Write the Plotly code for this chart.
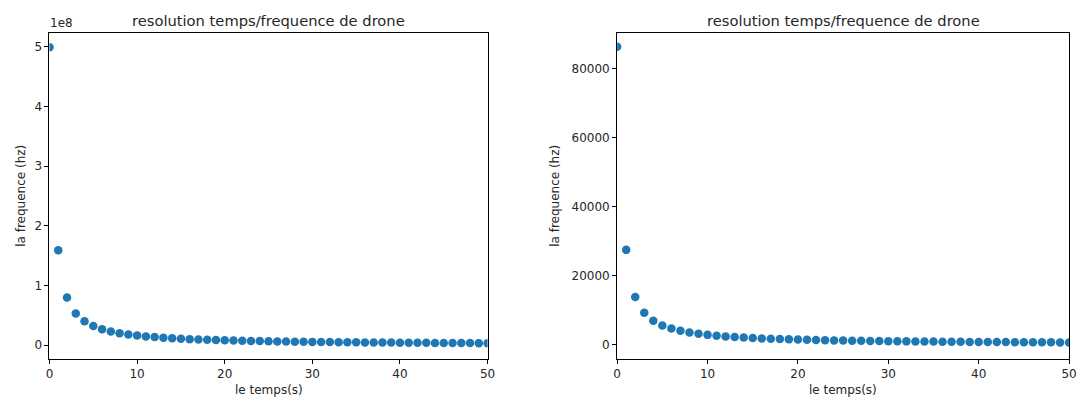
import plotly.graph_objects as go

temps = list(range(0, 51))

freq_gauche = [
    4.99e8, 1.59e8, 7.95e7, 5.30e7, 3.98e7, 3.18e7, 2.65e7, 2.27e7, 1.99e7, 1.77e7,
    1.59e7, 1.45e7, 1.33e7, 1.22e7, 1.14e7, 1.06e7, 9.9e6, 9.4e6, 8.8e6, 8.4e6,
    7.95e6, 7.6e6, 7.2e6, 6.9e6, 6.6e6, 6.4e6, 6.1e6, 5.9e6, 5.7e6, 5.5e6,
    5.3e6, 5.1e6, 5.0e6, 4.8e6, 4.7e6, 4.5e6, 4.4e6, 4.3e6, 4.2e6, 4.1e6,
    4.0e6, 3.9e6, 3.8e6, 3.7e6, 3.6e6, 3.5e6, 3.5e6, 3.4e6, 3.3e6, 3.2e6, 3.2e6,
]

freq_droite = [
    86300, 27400, 13700, 9150, 6850, 5480, 4570, 3920, 3430, 3050,
    2740, 2490, 2290, 2110, 1960, 1830, 1710, 1610, 1520, 1440,
    1370, 1310, 1250, 1190, 1140, 1100, 1050, 1015, 980, 945,
    915, 885, 855, 830, 805, 785, 760, 740, 720, 705,
    685, 670, 655, 640, 625, 610, 595, 585, 570, 560, 550,
]

x_ticks = [0, 10, 20, 30, 40, 50]
y_ticks_gauche = [0, 1e8, 2e8, 3e8, 4e8, 5e8]
y_text_gauche = ["0", "1", "2", "3", "4", "5"]
y_ticks_droite = [0, 20000, 40000, 60000, 80000]
y_text_droite = ["0", "20000", "40000", "60000", "80000"]

titre = "resolution temps/frequence de drone"
label_x = "le temps(s)"
label_y = "la frequence (hz)"

W, H = 1086, 399
BLUE = "#1f77b4"
FONT = "DejaVu Sans"
TXT = "#262626"

# pixel layout
L1, R1 = 46, 489
L2, R2 = 620, 1077
TOP, BOT = 33, 359

def fx(px):
    return px / W

def fy(py):
    return 1 - py / H

fig = go.Figure()
fig.add_trace(go.Scatter(x=temps, y=freq_gauche, mode="markers",
                         marker=dict(color=BLUE, size=8.5), xaxis="x", yaxis="y",
                         cliponaxis=True, showlegend=False))
fig.add_trace(go.Scatter(x=temps, y=freq_droite, mode="markers",
                         marker=dict(color=BLUE, size=8.5), xaxis="x2", yaxis="y2",
                         cliponaxis=True, showlegend=False))

axis_common = dict(showgrid=False, zeroline=False, showline=True, linecolor="black",
                   linewidth=1, mirror=True, ticks="outside", ticklen=4, tickcolor="black",
                   tickfont=dict(family=FONT, size=12, color=TXT))

fig.update_layout(
    width=W, height=H,
    margin=dict(l=0, r=0, t=0, b=0),
    paper_bgcolor="white", plot_bgcolor="white",
    font=dict(family=FONT, color=TXT),
    xaxis=dict(domain=[fx(L1), fx(R1)], range=[0, 50], tickvals=x_ticks,
               anchor="y", **axis_common),
    yaxis=dict(domain=[fy(BOT), fy(TOP)], range=[-0.234e8, 5.23e8],
               tickvals=y_ticks_gauche, ticktext=y_text_gauche, anchor="x", **axis_common),
    xaxis2=dict(domain=[fx(L2), fx(R2)], range=[0, 50], tickvals=x_ticks,
                anchor="y2", **axis_common),
    yaxis2=dict(domain=[fy(BOT), fy(TOP)], range=[-4260, 90320],
                tickvals=y_ticks_droite, ticktext=y_text_droite, anchor="x2", **axis_common),
)

ann = []
for (l, r, ylab_x) in [(L1, R1, 17), (L2, R2, 557)]:
    cx = (l + r) / 2
    ann.append(dict(text=titre, x=fx(cx), y=fy(20), xref="paper", yref="paper",
                    xanchor="center", yanchor="middle", showarrow=False,
                    font=dict(family=FONT, size=14.7, color=TXT)))
    ann.append(dict(text=label_x, x=fx(cx), y=fy(390), xref="paper", yref="paper",
                    xanchor="center", yanchor="middle", showarrow=False,
                    font=dict(family=FONT, size=12, color=TXT)))
    ann.append(dict(text=label_y, x=fx(ylab_x), y=fy((TOP + BOT) / 2), xref="paper",
                    yref="paper", xanchor="center", yanchor="middle", showarrow=False,
                    textangle=-90, font=dict(family=FONT, size=12, color=TXT)))
ann.append(dict(text="1e8", x=fx(L1 - 2), y=fy(TOP - 1), xref="paper", yref="paper",
                xanchor="left", yanchor="bottom", showarrow=False,
                font=dict(family=FONT, size=12, color=TXT)))
fig.update_layout(annotations=ann)

fig.write_html("out.html",
               config={"displayModeBar": False},
               post_script="document.body.style.margin='0';document.body.style.overflow='hidden';")
